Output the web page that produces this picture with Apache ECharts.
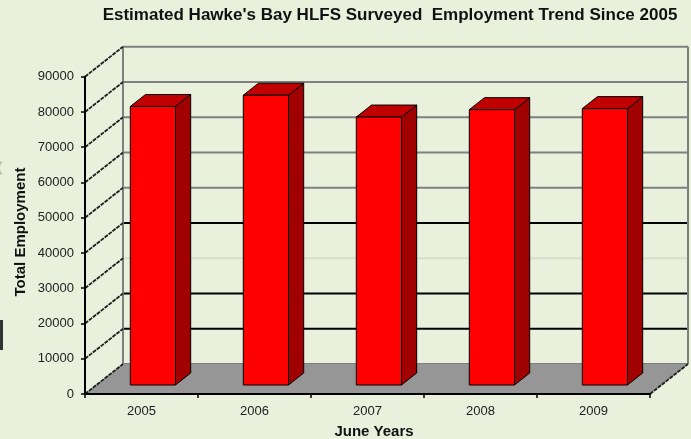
<!DOCTYPE html>
<html>
<head>
<meta charset="utf-8">
<script src="https://cdn.jsdelivr.net/npm/echarts@6/dist/echarts.min.js"></script>
<style>
  html, body { margin: 0; padding: 0; background: #E9F0DC; }
  #chart { width: 691px; height: 439px; }
</style>
</head>
<body>
<div id="chart"></div>
<script>
// June years and surveyed employment totals
const years = ['2005', '2006', '2007', '2008', '2009'];
const employment = [79000, 82200, 76000, 78100, 78400];
// value axis ticks
const yTicks = [0, 10000, 20000, 30000, 40000, 50000, 60000, 70000, 80000, 90000];

// depth offset of the back wall relative to the front plane (pixels)
const DX = 38, DY = -30;
// bars occupy this slice of the depth
const DEPTH_FRONT = 0.3, DEPTH_BACK = 0.7;
const FONT = 'Liberation Sans, Arial, sans-serif';

// colours of the back-wall gridlines, by tick
const wallLineColor = ['#808080', '#000000', '#000000', '#d9ddcc', '#000000',
                       '#808080', '#808080', '#808080', '#808080', '#808080'];

const chart = echarts.init(document.getElementById('chart'), null, { renderer: 'canvas' });

function renderWalls(params, api) {
  const cs = params.coordSys;
  const L = cs.x, R = cs.x + cs.width, B = cs.y + cs.height;
  const yTop = api.coord([0, yTicks[yTicks.length - 1]])[1];
  const children = [];
  // back wall gridlines
  yTicks.forEach(function (v, i) {
    const y = api.coord([0, v])[1];
    children.push({
      type: 'line',
      shape: { x1: L + DX, y1: y + DY, x2: R + DX, y2: y + DY },
      style: { stroke: wallLineColor[i], lineWidth: 2 }
    });
  });
  // back wall vertical edges
  [L + DX, R + DX].forEach(function (x) {
    children.push({
      type: 'line',
      shape: { x1: x, y1: yTop + DY, x2: x, y2: B + DY },
      style: { stroke: '#808080', lineWidth: 2 }
    });
  });
  // floor
  children.push({
    type: 'polygon',
    shape: { points: [[L, B], [R, B], [R + DX, B + DY], [L + DX, B + DY]] },
    style: { fill: '#969696', stroke: null }
  });
  // side wall diagonals from each tick
  yTicks.forEach(function (v) {
    const y = api.coord([0, v])[1];
    children.push({
      type: 'line',
      shape: { x1: L, y1: y, x2: L + DX, y2: y + DY },
      style: { stroke: '#1e1e1e', lineWidth: 1.8, lineDash: [4, 1] }
    });
  });
  // right floor edge
  children.push({
    type: 'line',
    shape: { x1: R, y1: B, x2: R + DX, y2: B + DY },
    style: { stroke: '#1e1e1e', lineWidth: 1.8, lineDash: [4, 1] }
  });
  return { type: 'group', children: children };
}

function renderBar(params, api) {
  const idx = api.value(0);
  const base = api.coord([idx, 0]);
  const top = api.coord([idx, api.value(1)]);
  const band = api.size([1, 0])[0];
  const w = band / 2.5;
  const fx0 = base[0] - w / 2 + DEPTH_FRONT * DX;
  const fx1 = fx0 + w;
  const fyT = top[1] + DEPTH_FRONT * DY;
  const fyB = base[1] + DEPTH_FRONT * DY;
  const bx = (DEPTH_BACK - DEPTH_FRONT) * DX;
  const by = (DEPTH_BACK - DEPTH_FRONT) * DY;
  const edge = { stroke: '#000', lineWidth: 1, lineJoin: 'round' };
  return {
    type: 'group',
    children: [
      {
        type: 'polygon',
        shape: { points: [[fx1, fyT], [fx1 + bx, fyT + by], [fx1 + bx, fyB + by], [fx1, fyB]] },
        style: Object.assign({ fill: '#A00000' }, edge)
      },
      {
        type: 'polygon',
        shape: { points: [[fx0, fyT], [fx1, fyT], [fx1 + bx, fyT + by], [fx0 + bx, fyT + by]] },
        style: Object.assign({ fill: '#C00000' }, edge)
      },
      {
        type: 'polygon',
        shape: { points: [[fx0, fyT], [fx1, fyT], [fx1, fyB], [fx0, fyB]] },
        style: Object.assign({ fill: '#FF0000' }, edge)
      }
    ]
  };
}

chart.setOption({
  backgroundColor: '#E9F0DC',
  animation: false,
  grid: { left: 85, right: 41, top: 76.7, bottom: 45 },
  xAxis: {
    type: 'category',
    data: years,
    z: 5,
    axisLine: { lineStyle: { color: '#000', width: 2 } },
    axisTick: { show: true, length: 4, lineStyle: { color: '#000', width: 1.5 } },
    axisLabel: { color: '#222', fontSize: 13, fontFamily: FONT, margin: 11 },
    splitLine: { show: false }
  },
  yAxis: {
    type: 'value',
    min: 0, max: 90000, interval: 10000,
    z: 5,
    axisLine: { show: true, lineStyle: { color: '#000', width: 2 } },
    axisTick: { show: true, length: 4, lineStyle: { color: '#000', width: 1.5 } },
    axisLabel: {
      color: '#222', fontSize: 13, fontFamily: FONT, margin: 11,
      formatter: function (v) { return String(v); }
    },
    splitLine: { show: false }
  },
  graphic: [
    {
      type: 'text', x: 390, y: 15, z: 10,
      style: {
        text: "Estimated Hawke's Bay HLFS Surveyed  Employment Trend Since 2005",
        font: 'bold 17px ' + FONT, fill: '#111', align: 'center', verticalAlign: 'middle'
      }
    },
    {
      type: 'text', x: 374, y: 432, z: 10,
      style: { text: 'June Years', font: 'bold 15px ' + FONT, fill: '#111', align: 'center', verticalAlign: 'middle' }
    },
    {
      type: 'text', x: 21, y: 232, rotation: Math.PI / 2, z: 10,
      style: { text: 'Total Employment', font: 'bold 15px ' + FONT, fill: '#111', align: 'center', verticalAlign: 'middle' }
    },
    {
      type: 'rect', z: 10,
      shape: { x: 0, y: 320, width: 3, height: 30 },
      style: { fill: '#333' }
    },
    {
      type: 'arc', z: 10,
      shape: { cx: 8, cy: 168, r: 9, startAngle: Math.PI * 0.75, endAngle: Math.PI * 1.25 },
      style: { stroke: '#b5b8ae', lineWidth: 1.5, fill: null }
    }
  ],
  series: [
    {
      type: 'custom',
      z: 1,
      silent: true,
      clip: false,
      renderItem: renderWalls,
      data: [[0, 0]]
    },
    {
      type: 'custom',
      z: 3,
      clip: false,
      renderItem: renderBar,
      encode: { x: 0, y: 1 },
      data: employment.map(function (v, i) { return [i, v]; })
    }
  ]
});
</script>
</body>
</html>
